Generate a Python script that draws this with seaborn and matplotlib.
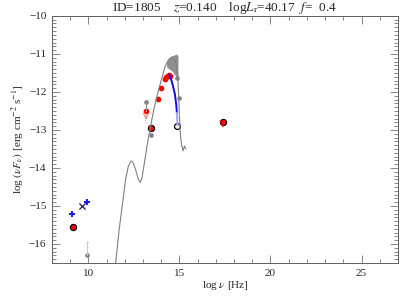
import numpy as np
import pandas as pd
import matplotlib
matplotlib.use("Agg")
import matplotlib.pyplot as plt
import seaborn as sns
from matplotlib.ticker import MultipleLocator

# ---- data ----
model_x = [11.50, 11.70, 11.90, 12.05, 12.20, 12.35, 12.45, 12.60, 12.75, 12.85, 12.95,
           13.10, 13.25, 13.40, 13.60, 13.80, 14.00, 14.20, 14.40, 14.60, 14.80, 14.90,
           14.95, 15.00, 15.05, 15.12, 15.20, 15.28, 15.35]
model_y = [-16.50, -15.60, -14.85, -14.30, -13.95, -13.82, -13.85, -14.05, -14.30, -14.38, -14.25,
           -13.80, -13.35, -12.95, -12.45, -12.05, -11.70, -11.35, -11.15, -11.08, -11.20, -11.50,
           -12.00, -12.60, -13.10, -13.40, -13.55, -13.42, -13.50]

host_x = [14.30, 14.45, 14.60, 14.75, 14.85, 14.92]
host_top = [-11.20, -11.10, -11.05, -11.02, -11.00, -11.05]
host_bot = [-11.35, -11.40, -11.45, -11.55, -11.65, -11.70]

grey_x = [13.17, 13.44, 14.86, 14.97, 9.95]
grey_y = [-12.26, -13.13, -11.63, -12.16, -16.29]

red_x = [13.17, 13.83, 14.00, 14.20, 14.28, 14.35, 14.42, 14.48]
red_y = [-12.50, -12.18, -11.90, -11.65, -11.60, -11.57, -11.56, -11.58]

redk_x = [9.18, 13.44, 17.38]
redk_y = [-15.55, -12.95, -12.79]

blue_pt_x = [9.13, 9.95]
blue_pt_y = [-15.21, -14.90]

cross_x = [9.67]
cross_y = [-15.00]

open_x = [14.86]
open_y = [-12.90]

blue_x = [14.45, 14.60, 14.75, 14.83, 14.86]
blue_y = [-11.55, -11.75, -12.05, -12.35, -12.55]
lblue_x = [14.86, 14.90]
lblue_y = [-12.55, -12.88]

title_txt = r"ID=1805    $z$=0.140    log$L_{\rm r}$=40.17  $f$=  0.4"

# ---- style ----
sns.set_style("ticks")
plt.rcParams['font.family'] = ['Liberation Serif', 'DejaVu Serif']
plt.rcParams['mathtext.fontset'] = 'stix'

fig = plt.figure(figsize=(4.15, 2.97), dpi=100)
ax = fig.add_axes([0.125, 0.1145, 0.834, 0.832])

# host galaxy band
ax.fill_between(host_x, host_bot, host_top, color='#909090', lw=0)

# model curve
sns.lineplot(x=model_x, y=model_y, ax=ax, color='#808080', lw=0.8, sort=False,
             estimator=None)

# error bars / limits
ax.plot([9.95, 9.95], [-16.29, -15.95], color='#c8c8c8', lw=0.8)
ax.plot([9.90, 10.00], [-15.95, -15.95], color='#c8c8c8', lw=0.8)
ax.plot([13.17, 13.17], [-12.26, -12.50], color='#909090', lw=0.8)
ax.plot([13.17, 13.12, 13.44], [-12.50, -12.78, -12.95], color='#ff8080', lw=0.6, ls=':')
ax.annotate('', xy=(13.17, -12.80), xytext=(13.17, -12.55),
            arrowprops=dict(arrowstyle='->', color='#ff7070', lw=0.6))
ax.annotate('', xy=(17.38, -13.00), xytext=(17.38, -12.82),
            arrowprops=dict(arrowstyle='->', color='red', lw=0.6))

# blue segments
sns.lineplot(x=blue_x, y=blue_y, ax=ax, color='#1010e0', lw=1.4, sort=False, estimator=None)
sns.lineplot(x=lblue_x, y=lblue_y, ax=ax, color='#a0a0ff', lw=1.4, sort=False, estimator=None)

# points
sns.scatterplot(x=grey_x, y=grey_y, ax=ax, color='#808080', s=11, linewidth=0)
sns.scatterplot(x=red_x, y=red_y, ax=ax, color='red', s=17, linewidth=0)
sns.scatterplot(x=redk_x, y=redk_y, ax=ax, color='red', s=20, edgecolor='black', linewidth=0.8)
sns.scatterplot(x=open_x, y=open_y, ax=ax, color='white', s=18, edgecolor='black', linewidth=0.9)
sns.scatterplot(x=blue_pt_x, y=blue_pt_y, ax=ax, color='#1a1aff', marker='P', s=20, linewidth=0)
sns.scatterplot(x=cross_x, y=cross_y, ax=ax, color='#202060', marker='x', s=20, linewidth=0.9)

# axes
ax.set_xlim(8, 27)
ax.set_ylim(-16.5, -10)
ax.xaxis.set_major_locator(MultipleLocator(5))
ax.xaxis.set_minor_locator(MultipleLocator(1))
ax.yaxis.set_major_locator(MultipleLocator(1))
ax.yaxis.set_minor_locator(MultipleLocator(0.1))
ax.tick_params(which='both', direction='in', top=True, right=True, width=0.6,
               color='#707070', labelsize=8, pad=4)
ax.tick_params(which='major', length=6)
ax.tick_params(which='minor', length=3)
for s in ax.spines.values():
    s.set_linewidth(0.7)
    s.set_color('#606060')

ax.set_xlabel(r"log $\nu$ [Hz]", fontsize=8, labelpad=1)
ax.set_ylabel(r"log $(\nu F_\nu)$ [erg cm$^{-2}$ s$^{-1}$]", fontsize=8, labelpad=2)
ax.set_title(title_txt, fontsize=9.5, pad=3)

fig.savefig("out.png", dpi=100)
